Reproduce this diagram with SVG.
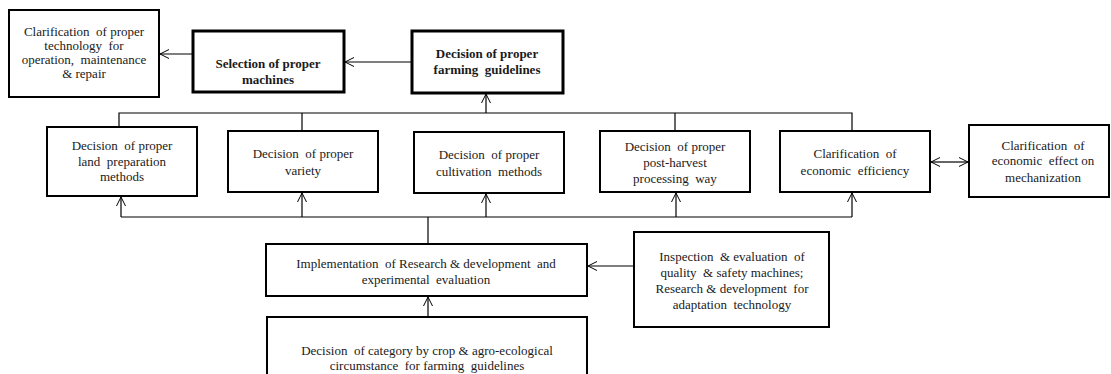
<svg xmlns="http://www.w3.org/2000/svg" width="1111" height="374" viewBox="0 0 1111 374">
  <defs>
    <style>
      .box { fill: #fff; stroke: #000; stroke-width: 2; }
      .bold-box { fill: #fff; stroke: #000; stroke-width: 3; }
      .t { font-family: "Liberation Serif", "Times New Roman", serif; font-size: 13px; fill: #1a1a1a; text-anchor: middle; white-space: pre; }
      .tb { font-family: "Liberation Serif", "Times New Roman", serif; font-size: 13px; font-weight: bold; fill: #1a1a1a; text-anchor: middle; white-space: pre; }
      .ln { fill: none; stroke: #000; stroke-width: 1.2; }
      .arr { fill: none; stroke: #000; stroke-width: 1.2; marker-end: url(#open); }
      .arr2 { fill: none; stroke: #333; stroke-width: 1.4; marker-start: url(#openStart); marker-end: url(#open); }
    </style>
    <marker id="open" viewBox="0 0 10 10" refX="10" refY="5" markerWidth="10" markerHeight="10" markerUnits="userSpaceOnUse" orient="auto">
      <path d="M1,0.5 L10,5 L1,9.5" fill="none" stroke="#000" stroke-width="1"/>
    </marker>
    <marker id="openStart" viewBox="0 0 10 10" refX="0" refY="5" markerWidth="10" markerHeight="10" markerUnits="userSpaceOnUse" orient="auto">
      <path d="M9,0.5 L0,5 L9,9.5" fill="none" stroke="#000" stroke-width="1"/>
    </marker>
  </defs>

  <g id="connectors">
    <!-- top row -->
    <line class="arr" x1="193" y1="54" x2="160" y2="54"/>
    <line class="arr" x1="412" y1="62" x2="345" y2="62"/>
    <!-- upper bus feeding the guideline decision -->
    <polyline class="ln" points="119,127 119,113 852,113 852,131"/>
    <line class="ln" x1="302" y1="113" x2="302" y2="131"/>
    <line class="ln" x1="675" y1="113" x2="675" y2="131"/>
    <line class="arr" x1="486" y1="113" x2="486" y2="94"/>
    <!-- lower bus from R&D implementation -->
    <line class="ln" x1="121" y1="217" x2="852" y2="217"/>
    <line class="arr" x1="121" y1="217" x2="121" y2="197"/>
    <line class="arr" x1="302" y1="217" x2="302" y2="193"/>
    <line class="arr" x1="486" y1="217" x2="486" y2="194"/>
    <line class="arr" x1="676" y1="217" x2="676" y2="193"/>
    <line class="arr" x1="852" y1="217" x2="852" y2="193"/>
    <line class="ln" x1="428" y1="217" x2="428" y2="244"/>
    <!-- economic efficiency exchange -->
    <line class="arr2" x1="931" y1="162" x2="968" y2="162"/>
    <!-- bottom inputs -->
    <line class="arr" x1="634" y1="266" x2="588" y2="266"/>
    <line class="arr" x1="428" y1="317" x2="428" y2="297"/>
  </g>

  <g id="node-tech-clarification">
    <rect class="box" x="9" y="10" width="150" height="87"/>
    <text class="t" x="84" y="36">Clarification  of proper</text>
    <text class="t" x="84" y="50">technology  for</text>
    <text class="t" x="84" y="64">operation,  maintenance</text>
    <text class="t" x="84" y="78">&amp; repair</text>
  </g>

  <g id="node-machine-selection">
    <rect class="bold-box" x="193" y="31" width="151" height="61"/>
    <text class="tb" x="268" y="68">Selection of proper</text>
    <text class="tb" x="268" y="84">machines</text>
  </g>

  <g id="node-farming-guidelines">
    <rect class="bold-box" x="412" y="31" width="151" height="62"/>
    <text class="tb" x="487" y="58">Decision of proper</text>
    <text class="tb" x="487" y="74">farming  guidelines</text>
  </g>

  <g id="node-land-preparation">
    <rect class="box" x="47" y="127" width="150" height="69"/>
    <text class="t" x="122" y="150">Decision  of proper</text>
    <text class="t" x="122" y="166">land  preparation</text>
    <text class="t" x="122" y="181">methods</text>
  </g>

  <g id="node-variety">
    <rect class="box" x="228" y="131" width="150" height="61"/>
    <text class="t" x="303" y="158">Decision  of proper</text>
    <text class="t" x="303" y="175">variety</text>
  </g>

  <g id="node-cultivation">
    <rect class="box" x="414" y="132" width="150" height="61"/>
    <text class="t" x="489" y="159">Decision  of proper</text>
    <text class="t" x="489" y="176">cultivation  methods</text>
  </g>

  <g id="node-post-harvest">
    <rect class="box" x="600" y="131" width="150" height="61"/>
    <text class="t" x="675" y="151">Decision  of proper</text>
    <text class="t" x="675" y="167">post-harvest</text>
    <text class="t" x="675" y="183">processing  way</text>
  </g>

  <g id="node-economic-efficiency">
    <rect class="box" x="780" y="131" width="150" height="61"/>
    <text class="t" x="855" y="158">Clarification  of</text>
    <text class="t" x="855" y="175">economic  efficiency</text>
  </g>

  <g id="node-economic-effect">
    <rect class="box" x="969" y="125" width="140" height="72"/>
    <text class="t" x="1043" y="150">Clarification  of</text>
    <text class="t" x="1043" y="165">economic  effect on</text>
    <text class="t" x="1043" y="182">mechanization</text>
  </g>

  <g id="node-implementation">
    <rect class="box" x="266" y="244" width="321" height="52"/>
    <text class="t" x="426" y="268">Implementation  of Research &amp; development  and</text>
    <text class="t" x="426" y="284">experimental  evaluation</text>
  </g>

  <g id="node-inspection">
    <rect class="box" x="634" y="232" width="195" height="95"/>
    <text class="t" x="732" y="261">Inspection  &amp; evaluation  of</text>
    <text class="t" x="732" y="277">quality  &amp; safety machines;</text>
    <text class="t" x="732" y="293">Research &amp; development  for</text>
    <text class="t" x="732" y="309">adaptation  technology</text>
  </g>

  <g id="node-category">
    <rect class="box" x="267" y="317" width="320" height="62"/>
    <text class="t" x="427" y="355">Decision  of category by crop &amp; agro-ecological</text>
    <text class="t" x="427" y="370">circumstance  for farming  guidelines</text>
  </g>
</svg>
